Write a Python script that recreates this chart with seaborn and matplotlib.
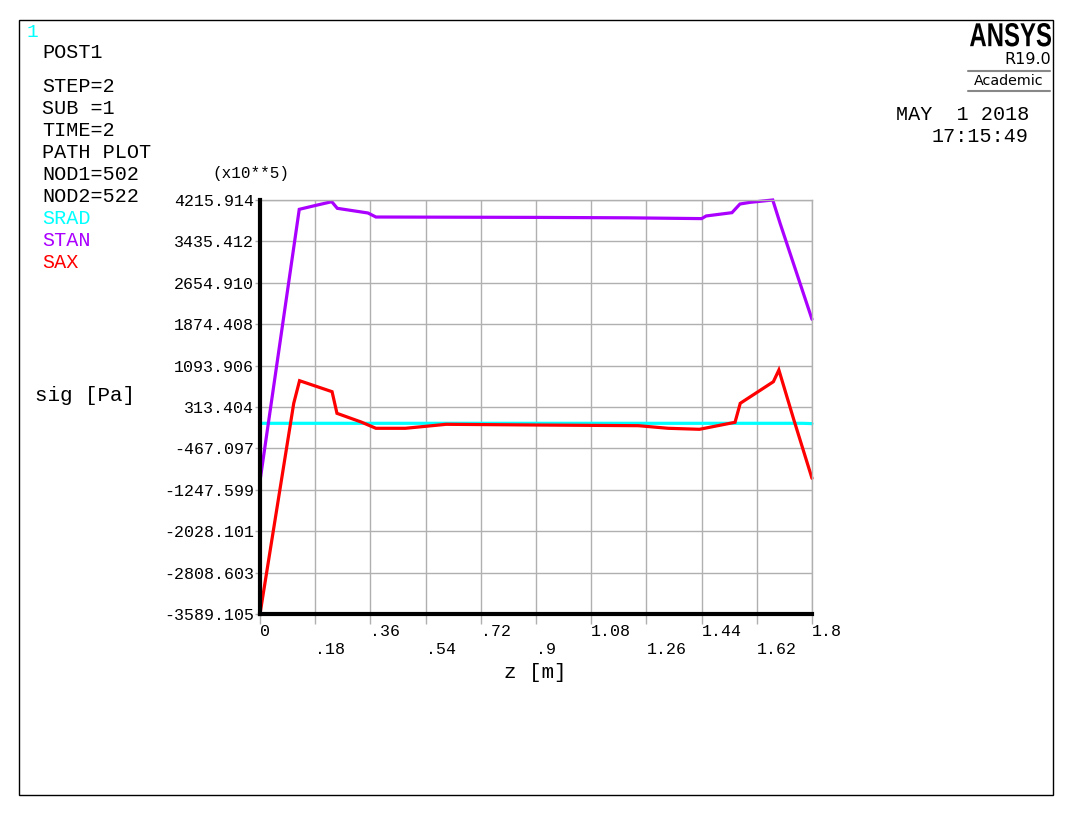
import numpy as np
import pandas as pd
import matplotlib
matplotlib.use("Agg")
import matplotlib.pyplot as plt
import seaborn as sns
from matplotlib.patches import Rectangle, PathPatch
from matplotlib.lines import Line2D
from matplotlib.textpath import TextPath
from matplotlib.font_manager import FontProperties
from matplotlib.transforms import Affine2D, IdentityTransform

# ---------------- data (x10**5 Pa along path z [m]) ----------------
z_srad = [0.0, 0.36, 0.90, 1.44, 1.77, 1.8]
srad = [6, 6, 6, 6, 6, 0]

z_stan = [0.0, 0.128, 0.175, 0.234, 0.252, 0.352, 0.378, 0.60, 0.90, 1.20,
          1.44, 1.455, 1.539, 1.565, 1.598, 1.672, 1.696, 1.8]
stan = [-1082, 4040, 4105, 4184, 4059, 3971, 3895, 3892, 3888, 3880,
        3865, 3915, 3977, 4140, 4172, 4216, 3776, 1967]

z_sax = [0.0, 0.110, 0.129, 0.235, 0.251, 0.33, 0.378, 0.474, 0.607, 0.90,
         1.234, 1.331, 1.433, 1.549, 1.566, 1.674, 1.692, 1.741, 1.8]
sax = [-3589, 383, 809, 602, 194, 30, -88, -88, -13, -26,
       -39, -88, -107, 25, 383, 790, 1011, 68, -1031]

series_names = ["SRAD", "STAN", "SAX"]
series_colors = ["#00ffff", "#aa00ff", "#ff0000"]

y_tick_values = [4215.914, 3435.412, 2654.910, 1874.408, 1093.906, 313.404,
                 -467.097, -1247.599, -2028.101, -2808.603, -3589.105]
y_tick_labels = ["4215.914", "3435.412", "2654.910", "1874.408", "1093.906", "313.404",
                 "-467.097", "-1247.599", "-2028.101", "-2808.603", "-3589.105"]
x_tick_values = [0.0, 0.18, 0.36, 0.54, 0.72, 0.9, 1.08, 1.26, 1.44, 1.62, 1.8]
x_tick_labels = ["0", "\n.18", ".36", "\n.54", ".72", "\n.9", "1.08", "\n1.26", "1.44", "\n1.62", "1.8"]

info_lines = ["STEP=2", "SUB =1", "TIME=2", "PATH PLOT", "NOD1=502", "NOD2=522"]

# ---------------- build ----------------
df = pd.concat([
    pd.DataFrame({"z": z_srad, "sig": srad, "series": "SRAD"}),
    pd.DataFrame({"z": z_stan, "sig": stan, "series": "STAN"}),
    pd.DataFrame({"z": z_sax, "sig": sax, "series": "SAX"}),
], ignore_index=True)

sns.set_style("white")
MONO = "Liberation Mono"
plt.rcParams["font.family"] = [MONO, "DejaVu Sans"]

W, H = 1086, 818
fig = plt.figure(figsize=(W / 100, H / 100), dpi=100)
ax = fig.add_axes([260 / W, 1 - 614 / H, 552 / W, 414 / H])


def P(x, y):
    return (x / W, 1 - y / H)


sns.lineplot(data=df, x="z", y="sig", hue="series", hue_order=series_names,
             palette=dict(zip(series_names, series_colors)), sort=False,
             estimator=None, legend=False, linewidth=2.3, ax=ax)
for ln in ax.lines:
    ln.set_clip_on(False)
    ln.set_solid_joinstyle("miter")

ax.set_xlim(0, 1.8)
ax.set_ylim(y_tick_values[-1], y_tick_values[0])
ax.set_yticks(y_tick_values)
ax.set_yticklabels(y_tick_labels)
ax.set_xticks(x_tick_values)
ax.set_xticklabels(x_tick_labels, ha="left")
ax.set_xlabel("")
ax.set_ylabel("")
ax.grid(True, color="#b0b0b0", linewidth=1.0)
ax.set_axisbelow(True)
ax.tick_params(axis="y", length=3.6, width=1, color="#b0b0b0", pad=0.8,
               labelsize=12, labelcolor="black", left=True)
ax.tick_params(axis="x", length=7, width=1, color="#b0b0b0", pad=0.5,
               labelsize=12, labelcolor="black", bottom=True)
for lab in ax.get_xticklabels() + ax.get_yticklabels():
    lab.set_family(MONO)

for s in ["left", "bottom"]:
    ax.spines[s].set_color("black")
    ax.spines[s].set_linewidth(3)
    ax.spines[s].set_zorder(5)
for s in ["top", "right"]:
    ax.spines[s].set_color("#b0b0b0")
    ax.spines[s].set_linewidth(1)

# ---------------- annotations ----------------
fig.patches.append(Rectangle(P(19, 795), 1034 / W, 775 / H, transform=fig.transFigure,
                             fill=False, edgecolor="black", linewidth=1))

fig.text(*P(27, 37), "1", color="#00ffff", fontsize=14, family=MONO, ha="left", va="baseline")
fig.text(*P(42, 58), "POST1", color="black", fontsize=14.5, family=MONO, ha="left", va="baseline")
for i, t in enumerate(info_lines):
    fig.text(*P(42, 92.5 + 22 * i), t, color="black", fontsize=14.5, family=MONO,
             ha="left", va="baseline")
for i, (nm, col) in enumerate(zip(series_names, series_colors)):
    fig.text(*P(42, 224 + 22 * i), nm, color=col, fontsize=14.5, family=MONO,
             ha="left", va="baseline")

fig.text(*P(251, 178), "(x10**5)", color="black", fontsize=11.5, family=MONO, ha="center", va="baseline")
fig.text(*P(35, 401), "sig [Pa]", color="black", fontsize=15, family=MONO, ha="left", va="baseline")
fig.text(*P(535, 672), "z [m]", color="black", fontsize=15, family=MONO, ha="center", va="center")

# ANSYS logo: bold text path stretched to the condensed logo box (970..1050 x 23..46 px)
logo = TextPath((0, 0), "ANSYS", size=100,
                prop=FontProperties(family="Liberation Sans", weight="bold"))
ext = logo.get_extents()
sx = 81 / ext.width
sy = 23.5 / ext.height
tr = (Affine2D().translate(-ext.x0, -ext.y0).scale(sx, sy)
      .translate(970, H - 46.5))
fig.patches.append(PathPatch(logo, transform=tr + IdentityTransform(),
                             facecolor="black", edgecolor="none"))

fig.text(*P(1051, 64.5), "R19.0", color="black", fontsize=11.5, family="DejaVu Sans",
         ha="right", va="baseline")
fig.text(*P(1009, 85), "Academic", color="black", fontsize=10.3, family="DejaVu Sans",
         ha="center", va="baseline")
for yy in (70.7, 90.7):
    fig.add_artist(Line2D([968 / W, 1050 / W], [1 - yy / H, 1 - yy / H],
                          transform=fig.transFigure, color="#888888", linewidth=1.5))

fig.text(*P(1029, 120), "MAY  1 2018", color="black", fontsize=14.5, family=MONO,
         ha="right", va="baseline")
fig.text(*P(1029, 142), "17:15:49", color="black", fontsize=14.5, family=MONO,
         ha="right", va="baseline")

fig.savefig("out.png", dpi=100, facecolor="white")
